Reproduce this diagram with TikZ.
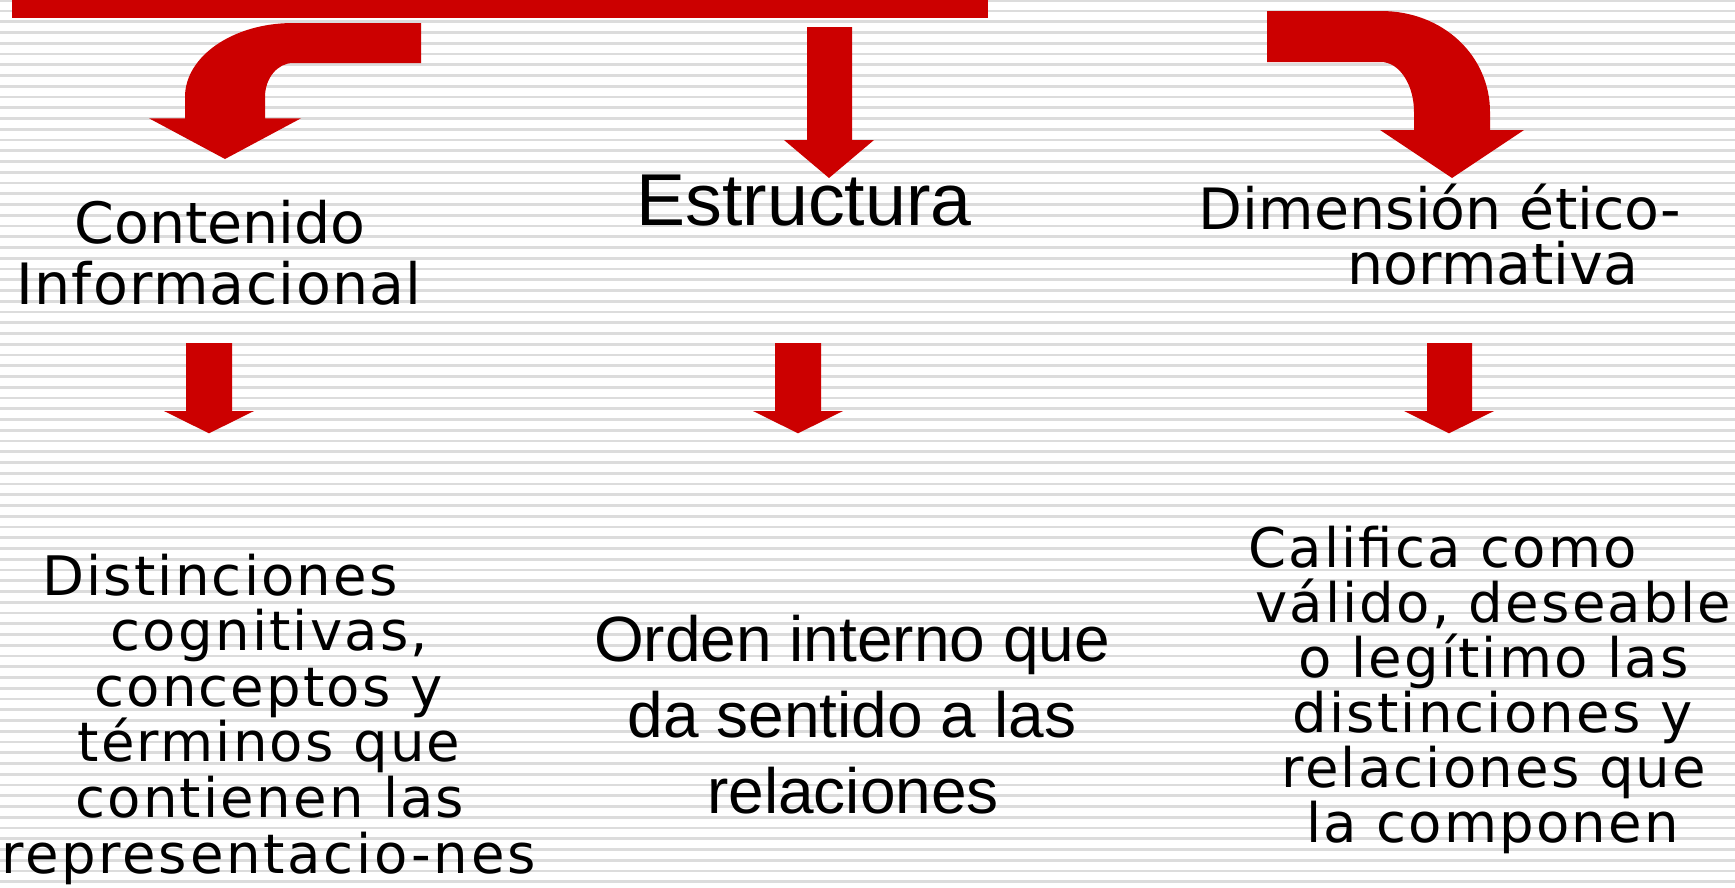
\documentclass[tikz,border=0pt]{standalone}
\usepackage{fontspec}
\setmainfont{DejaVu Sans}
\newfontfamily\widefont[LetterSpace=4]{DejaVu Sans}
\newfontfamily\widerfont[LetterSpace=5]{DejaVu Sans}
\newfontfamily\headwidefont[LetterSpace=2.3]{DejaVu Sans}
\newfontfamily\arialfont{Liberation Sans}
\definecolor{arrowred}{HTML}{CC0000}
\definecolor{stripegray}{HTML}{DCDCDC}

\begin{document}
\begin{tikzpicture}
  [
    x=1pt, y=-1pt,
    stripe/.style =
      {draw=stripegray, line width=2.6pt},
    redshape/.style =
      {fill=arrowred, draw=none},
    headtext/.style =
      {anchor=base, inner sep=0pt, font=\fontsize{57}{61}\selectfont},
    bighead/.style =
      {anchor=base, inner sep=0pt, font=\arialfont\fontsize{73.5}{80}\selectfont},
    bodytext/.style =
      {anchor=base, inner sep=0pt, font=\widefont\fontsize{54.5}{56}\selectfont},
    arialbody/.style =
      {anchor=base, inner sep=0pt, font=\arialfont\fontsize{64}{76}\selectfont}
  ]

\useasboundingbox (0,0) rectangle (1735,887);
\fill[white] (0,0) rectangle (1735,887);

% striped background
\foreach \k in {0,...,82}
  \draw[stripe] (0,0.2+10.75*\k) -- (1735,0.2+10.75*\k);

% top bar
\fill[redshape] (12,0) rectangle (988,17.7);

% curved arrow to the left
\fill[redshape] (421,23) -- (293,23) .. controls (233.4,23) and (185,56.1) .. (185,97)
  -- (185,118.3) -- (149,118.3) -- (225,159) -- (301,118.3) -- (265,118.3) -- (265,97)
  .. controls (265,78.2) and (277.5,63) .. (293,63) -- (421,63) -- cycle;

% straight arrow in the middle
\fill[redshape] (807,27) -- (852,27) -- (852,140) -- (874,140) -- (829,178)
  -- (784,140) -- (807,140) -- cycle;

% curved arrow to the right
\fill[redshape] (1267,11) -- (1381,11) .. controls (1443,11) and (1490,55.7) .. (1490,112)
  -- (1490,130) -- (1524,130) -- (1452,178) -- (1380,130) -- (1414,130) -- (1414,112)
  .. controls (1414,84.4) and (1399.2,62) .. (1381,62) -- (1267,62) -- cycle;

% headings
\node[headtext] (cont1) at (220,243) {Contenido};
\node[headtext, font=\headwidefont\fontsize{57}{61}\selectfont] (cont2) at (219,304) {Informacional};
\node[bighead] (estr) at (804,225) {Estructura};
\node[headtext] (dim1) at (1440,229) {Dimensión ético-};
\node[headtext] (dim2) at (1493,284) {normativa};

% small arrows
\fill[redshape] (186,343) -- (232,343) -- (232,411) -- (254,411) -- (209,433.3)
  -- (164,411) -- (186,411) -- cycle;
\fill[redshape] (775,343) -- (821,343) -- (821,411) -- (843,411) -- (798,433.3)
  -- (753,411) -- (775,411) -- cycle;
\fill[redshape] (1427,343) -- (1472,343) -- (1472,411) -- (1494,411) -- (1449,433.3)
  -- (1404,411) -- (1427,411) -- cycle;

% left text
\node[bodytext] (dist1) at (220,595) {Distinciones};
\node[bodytext] (dist2) at (269.5,650.6) {cognitivas,};
\node[bodytext] (dist3) at (268.5,706.2) {conceptos y};
\node[bodytext] (dist4) at (269,761.8) {términos que};
\node[bodytext] (dist5) at (270,817.4) {contienen las};
\node[bodytext, font=\widerfont\fontsize{54.5}{56}\selectfont] (dist6) at (268.5,873) {representacio-nes};

% middle text
\node[arialbody] (ord1) at (852,661.7) {Orden interno que};
\node[arialbody] (ord2) at (852,737) {da sentido a las};
\node[arialbody] (ord3) at (853,813) {relaciones};

% right text
\node[bodytext] (cal1) at (1442.5,567) {Califica como};
\node[bodytext] (cal2) at (1493,622) {válido, deseable};
\node[bodytext] (cal3) at (1493.5,677) {o legítimo las};
\node[bodytext] (cal4) at (1492.5,732) {distinciones y};
\node[bodytext] (cal5) at (1494,787) {relaciones que};
\node[bodytext] (cal6) at (1492.5,842) {la componen};

\end{tikzpicture}
\end{document}
